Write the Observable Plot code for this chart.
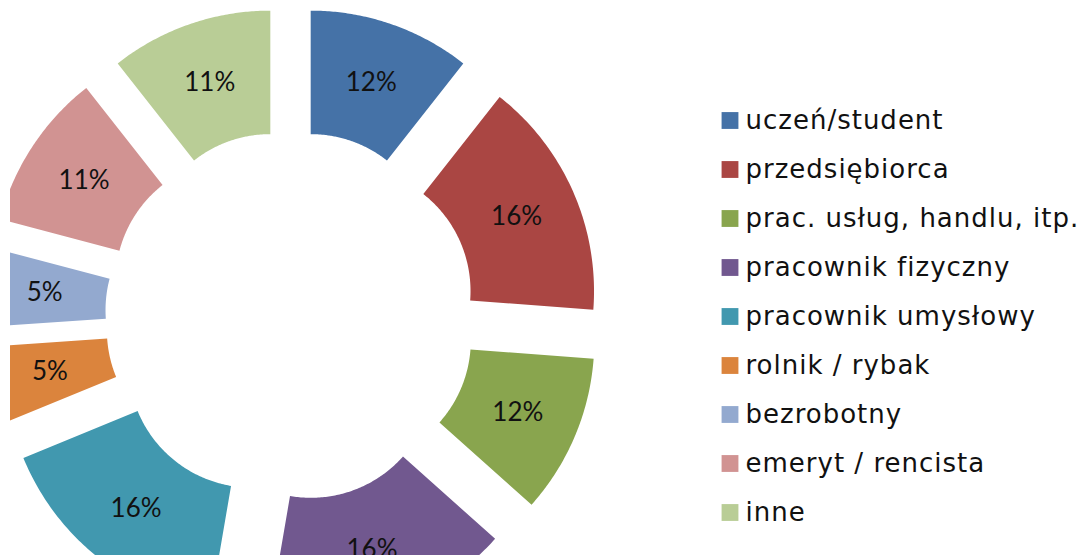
<!DOCTYPE html>
<html><head><meta charset="utf-8">
<script src="https://cdn.jsdelivr.net/npm/d3@7"></script>
<script src="https://cdn.jsdelivr.net/npm/@observablehq/plot@0.6"></script>
<style>
html,body{margin:0;padding:0;background:#fff;}
#chart{position:relative;width:1092px;height:555px;overflow:hidden;background:#fff;}
#chart svg{position:absolute;left:0;top:0;}
</style></head><body><div id="chart"></div>
<script>
// ---- data ----
const categories = ["uczeń/student","przedsiębiorca","prac. usług, handlu, itp.","pracownik fizyczny","pracownik umysłowy","rolnik / rybak","bezrobotny","emeryt / rencista","inne"];
const percentLabels = [12,16,12,16,16,5,5,11,11];
const sliceShares = [10.6,15.6,10.4,16.1,16.1,5.1,5.2,10.3,10.6];
const colors = ["#4572A7","#AA4643","#89A54E","#71588F","#4198AF","#DB843D","#93A9CF","#D19392","#B9CD96"];

// ---- layout (style) ----
const W = 1092, H = 555;
const CX = 290, CY = 315.5, RPX = 247, CLIPLEFT = 10;
const HOLE = 0.5, EXPLODE = 0.25;

const arcs = d3.pie().sort(null).value((d, i) => sliceShares[i])(categories);

const pts = [];
const labels = [];
arcs.forEach((a, i) => {
  const mid = (a.startAngle + a.endAngle) / 2;
  const ox = EXPLODE * Math.sin(mid), oy = EXPLODE * Math.cos(mid);
  const n = 80;
  for (let k = 0; k <= n; k++) {
    const t = a.startAngle + (a.endAngle - a.startAngle) * k / n;
    pts.push({cat: categories[i], x: ox + Math.sin(t), y: oy + Math.cos(t)});
  }
  for (let k = n; k >= 0; k--) {
    const t = a.startAngle + (a.endAngle - a.startAngle) * k / n;
    pts.push({cat: categories[i], x: ox + HOLE * Math.sin(t), y: oy + HOLE * Math.cos(t)});
  }
  const lr = EXPLODE + (1 + HOLE) / 2;
  labels.push({x: lr * Math.sin(mid), y: lr * Math.cos(mid), text: percentLabels[i] + "%"});
});

const pieChart = Plot.plot({
  width: W, height: H,
  margin: 0, marginLeft: CLIPLEFT,
  x: {domain: [(CLIPLEFT - CX) / RPX, (W - CX) / RPX], axis: null},
  y: {domain: [(CY - H) / RPX, CY / RPX], axis: null},
  color: {domain: categories, range: colors},
  style: {background: "#fff"},
  marks: [
    Plot.line(pts, {x: "x", y: "y", z: "cat", fill: "cat", stroke: "none", curve: "linear-closed", clip: true}),
    Plot.text(labels, {x: "x", y: "y", text: "text", fontSize: 26, fontFamily: "Lato", fill: "#111"})
  ]
});

const ROW0 = 118, ROWSTEP = 49.55;
const legendChart = Plot.plot({
  width: W, height: H, margin: 0,
  x: {domain: [0, 1], range: [729.5, 745], axis: null},
  y: {type: "point", padding: 0, domain: categories, range: [ROW0, ROW0 + (categories.length - 1) * ROWSTEP], axis: null},
  color: {domain: categories, range: colors},
  style: {background: "transparent", letterSpacing: "1px"},
  marks: [
    Plot.dot(categories, {x: () => 0, y: d => d, fill: d => d, symbol: "square", r: 9.5, stroke: "none"}),
    Plot.text(categories, {x: () => 1, y: d => d, text: d => d, textAnchor: "start", lineAnchor: "bottom", dy: 8, fontSize: 26, fontFamily: "DejaVu Sans", fill: "#111"})
  ]
});

const root = document.getElementById("chart");
root.appendChild(pieChart);
root.appendChild(legendChart);
</script>
</body></html>
